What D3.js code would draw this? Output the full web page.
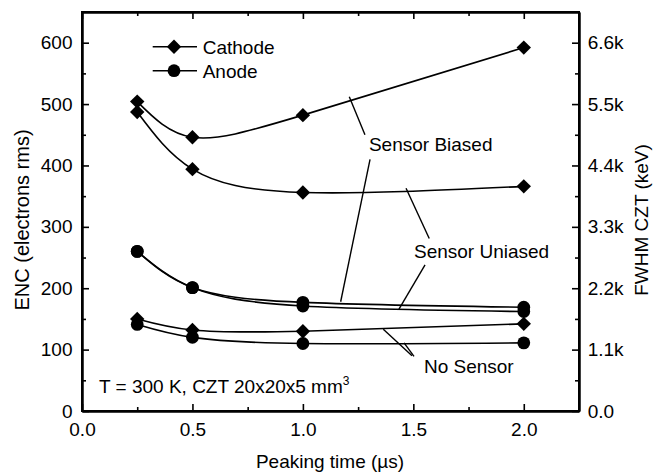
<!DOCTYPE html>
<html>
<head>
<meta charset="utf-8">
<script src="https://cdn.jsdelivr.net/npm/d3@7/dist/d3.min.js"></script>
<style>
  html, body { margin: 0; padding: 0; background: #fff; }
  svg { display: block; font-family: "Liberation Sans", Arial, sans-serif; }
  text { fill: #000; }
</style>
</head>
<body>
<svg id="chart" width="653" height="472"></svg>
<script>
// ---- data ----
const peakingTimes = [0.25, 0.5, 1.0, 2.0];
const cathodeBiased   = [504, 446, 482, 592];
const cathodeUnbiased = [487, 394, 356, 366];
const anodeBiased     = [260, 201, 177, 169];
const anodeUnbiased   = [260, 201, 171, 162];
const cathodeNoSensor = [150, 132, 130, 142];
const anodeNoSensor   = [141, 120, 110, 111];

const xTickValues = [0.0, 0.5, 1.0, 1.5, 2.0];
const xMinorValues = [0.25, 0.75, 1.25, 1.75];
const yTickValues = [0, 100, 200, 300, 400, 500, 600];
const yMinorValues = [50, 150, 250, 350, 450, 550];
const rightTickLabels = ["0.0", "1.1k", "2.2k", "3.3k", "4.4k", "5.5k", "6.6k"];

const legendLabels = ["Cathode", "Anode"];

// annotation leader lines in data coordinates [x1, y1, x2, y2]
const leaderBiased   = [[1.21, 512, 1.281, 450], [1.304, 410, 1.171, 178]];
const leaderUnbiased = [[1.467, 363, 1.572, 281], [1.553, 238, 1.435, 166]];
const leaderNoSensor = [[1.364, 133, 1.494, 90], [1.458, 111, 1.503, 89]];
const annotations = [
  {text: "Sensor Biased",  x: 1.299, y: 423},
  {text: "Sensor Uniased", x: 1.503, y: 249},
  {text: "No Sensor",      x: 1.548, y: 62.5}
];

// ---- layout ----
const svg = d3.select("#chart");
const L = 82, R = 579, T = 12, B = 411;
const FS = 19;

const x = d3.scaleLinear().domain([0, 2.25]).range([L, R]);
const y = d3.scaleLinear().domain([0, 650]).range([B, T]);

// axes
function styleAxis(g) {
  g.selectAll("path.domain").attr("stroke", "#000").attr("stroke-width", 2);
  g.selectAll(".tick line").attr("stroke", "#000").attr("stroke-width", 1.6);
  g.selectAll("text").attr("font-size", FS).attr("fill", "#000")
    .attr("font-family", '"Liberation Sans", Arial, sans-serif');
}

svg.append("g").attr("transform", `translate(0,${B})`)
  .call(d3.axisBottom(x).tickValues(xTickValues).tickFormat(d3.format(".1f"))
    .tickSize(-7).tickSizeOuter(0).tickPadding(11.5)).call(styleAxis);
svg.append("g").attr("transform", `translate(0,${B})`)
  .call(d3.axisBottom(x).tickValues(xMinorValues).tickFormat("")
    .tickSize(-4).tickSizeOuter(0)).call(styleAxis);
svg.append("g").attr("transform", `translate(0,${T})`)
  .call(d3.axisTop(x).tickValues(xTickValues).tickFormat("")
    .tickSize(-7).tickSizeOuter(0)).call(styleAxis);
svg.append("g").attr("transform", `translate(0,${T})`)
  .call(d3.axisTop(x).tickValues(xMinorValues).tickFormat("")
    .tickSize(-4).tickSizeOuter(0)).call(styleAxis);

svg.append("g").attr("transform", `translate(${L},0)`)
  .call(d3.axisLeft(y).tickValues(yTickValues).tickFormat(d3.format("d"))
    .tickSize(-7).tickSizeOuter(0).tickPadding(9.5)).call(styleAxis);
svg.append("g").attr("transform", `translate(${L},0)`)
  .call(d3.axisLeft(y).tickValues(yMinorValues).tickFormat("")
    .tickSize(-4).tickSizeOuter(0)).call(styleAxis);
svg.append("g").attr("transform", `translate(${R},0)`)
  .call(d3.axisRight(y).tickValues(yTickValues).tickFormat((d, i) => rightTickLabels[i])
    .tickSize(-7).tickSizeOuter(0).tickPadding(8.7)).call(styleAxis);
svg.append("g").attr("transform", `translate(${R},0)`)
  .call(d3.axisRight(y).tickValues(yMinorValues).tickFormat("")
    .tickSize(-4).tickSizeOuter(0)).call(styleAxis);

// frame
svg.append("rect").attr("x", L).attr("y", T).attr("width", R - L).attr("height", B - T)
  .attr("fill", "none").attr("stroke", "#000").attr("stroke-width", 2);

// axis titles
svg.append("text").attr("x", (L + R) / 2 - 0.5).attr("y", 468)
  .attr("text-anchor", "middle").attr("font-size", FS).text("Peaking time (\u00b5s)");
svg.append("text").attr("transform", "translate(22,220) rotate(-90)")
  .attr("text-anchor", "middle").attr("dy", "0.35em").attr("font-size", 20)
  .text("ENC (electrons rms)");
svg.append("text").attr("transform", "translate(641,220) rotate(-90)")
  .attr("text-anchor", "middle").attr("dy", "0.35em").attr("font-size", FS)
  .text("FWHM CZT (keV)");

// curves
const line = d3.line().x((d, i) => x(peakingTimes[i])).y(d => y(d)).curve(d3.curveNatural);
const series = [
  {v: cathodeBiased, m: "diamond"},
  {v: cathodeUnbiased, m: "diamond"},
  {v: anodeBiased, m: "circle"},
  {v: anodeUnbiased, m: "circle"},
  {v: cathodeNoSensor, m: "diamond"},
  {v: anodeNoSensor, m: "circle"}
];
const curves = svg.append("g");
series.forEach(s => {
  curves.append("path").attr("d", line(s.v)).attr("fill", "none")
    .attr("stroke", "#000").attr("stroke-width", 1.6);
});

function marker(g, type, cx, cy) {
  if (type === "diamond") {
    const h = 7.2;
    g.append("path").attr("d", `M${cx},${cy - h}L${cx + h},${cy}L${cx},${cy + h}L${cx - h},${cy}Z`)
      .attr("fill", "#000");
  } else {
    g.append("circle").attr("cx", cx).attr("cy", cy).attr("r", 6.4).attr("fill", "#000");
  }
}
const marks = svg.append("g");
series.forEach(s => {
  s.v.forEach((d, i) => marker(marks, s.m, x(peakingTimes[i]), y(d)));
});

// legend
const legend = svg.append("g");
["diamond", "circle"].forEach((m, i) => {
  const ly = 46.7 + i * 24;
  legend.append("line").attr("x1", 152.7).attr("x2", 197).attr("y1", ly).attr("y2", ly)
    .attr("stroke", "#000").attr("stroke-width", 1.5);
  marker(legend, m, 174, ly);
  legend.append("text").attr("x", 202.7).attr("y", ly + 6.8).attr("font-size", FS)
    .text(legendLabels[i]);
});

// annotations
const ann = svg.append("g");
[leaderBiased, leaderUnbiased, leaderNoSensor].forEach(set => {
  set.forEach(l => {
    ann.append("line").attr("x1", x(l[0])).attr("y1", y(l[1]))
      .attr("x2", x(l[2])).attr("y2", y(l[3]))
      .attr("stroke", "#000").attr("stroke-width", 1.4);
  });
});
annotations.forEach(a => {
  ann.append("text").attr("x", x(a.x)).attr("y", y(a.y)).attr("font-size", FS).text(a.text);
});

// condition text
const cond = svg.append("text").attr("x", x(0.077)).attr("y", y(29.8)).attr("font-size", FS);
cond.append("tspan").text("T = 300 K, CZT 20x20x5 mm");
cond.append("tspan").attr("dy", -8).attr("font-size", 12).text("3");
</script>
</body>
</html>
